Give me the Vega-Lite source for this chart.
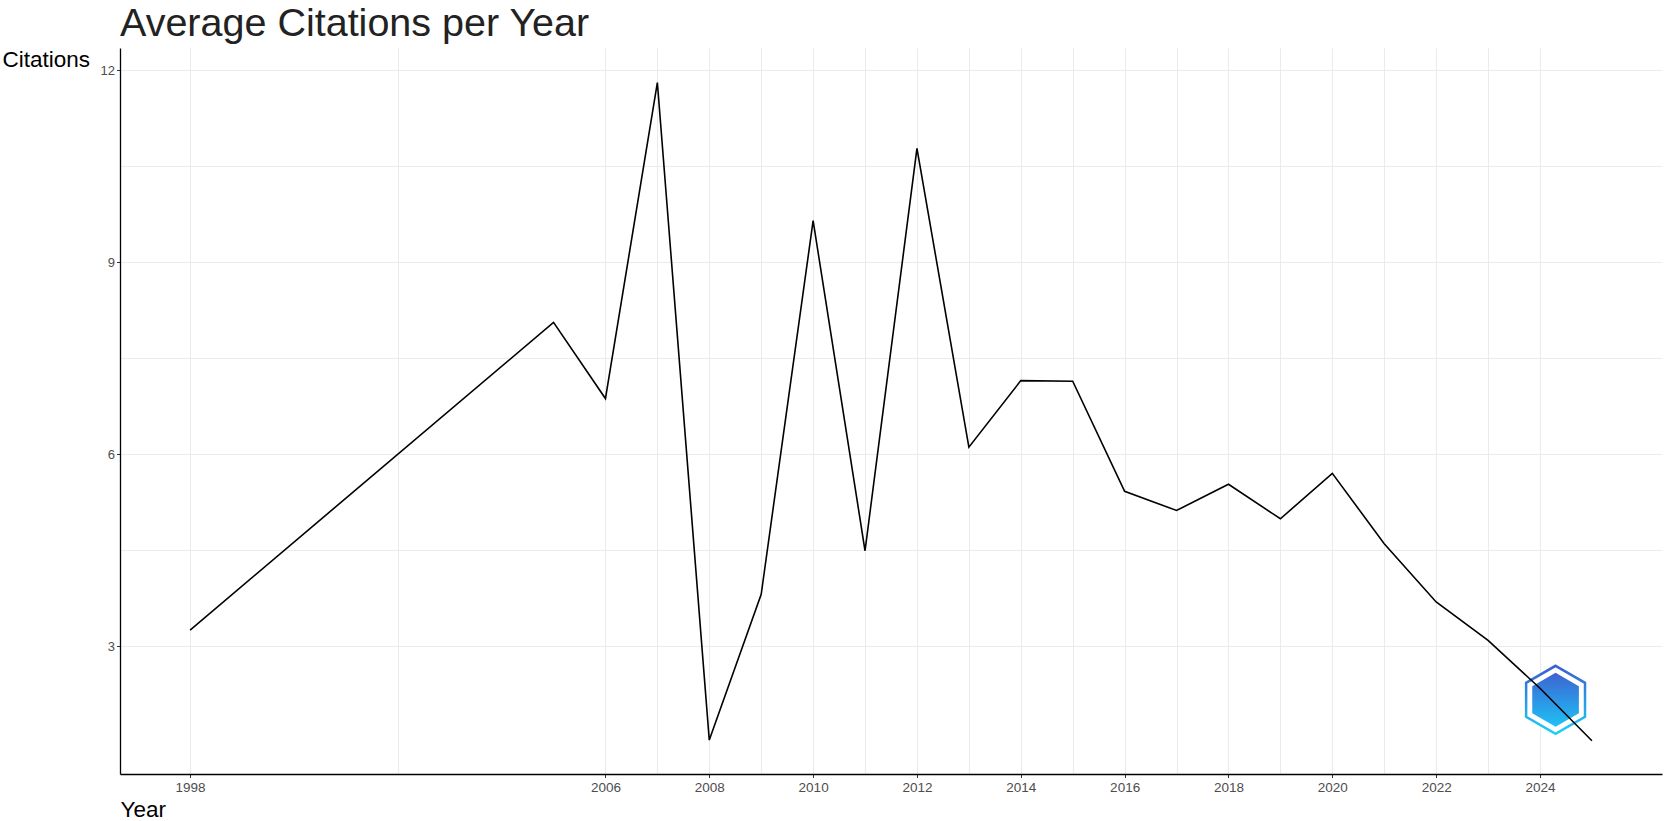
{
  "$schema": "https://vega.github.io/schema/vega-lite/v6.json",
  "autosize": {"type": "none"},
  "width": 1542,
  "height": 726,
  "padding": {"left": 120, "top": 48, "right": 3, "bottom": 47},
  "background": "white",
  "title": {
    "text": "Average Citations per Year",
    "anchor": "start",
    "frame": "group",
    "baseline": "alphabetic",
    "offset": -27,
    "font": "Liberation Sans",
    "fontSize": 39.5,
    "fontWeight": "normal",
    "color": "#222222"
  },
  "datasets": {
    "citations": [
      {"year": 1998, "citations": 3.25},
      {"year": 2005, "citations": 8.06},
      {"year": 2006, "citations": 6.87},
      {"year": 2007, "citations": 11.81},
      {"year": 2008, "citations": 1.53},
      {"year": 2009, "citations": 3.81},
      {"year": 2010, "citations": 9.65},
      {"year": 2011, "citations": 4.49},
      {"year": 2012, "citations": 10.78},
      {"year": 2013, "citations": 6.11},
      {"year": 2014, "citations": 7.15},
      {"year": 2015, "citations": 7.14},
      {"year": 2016, "citations": 5.42},
      {"year": 2017, "citations": 5.12},
      {"year": 2018, "citations": 5.53},
      {"year": 2019, "citations": 4.99},
      {"year": 2020, "citations": 5.70},
      {"year": 2021, "citations": 4.60},
      {"year": 2022, "citations": 3.69},
      {"year": 2023, "citations": 3.09},
      {"year": 2024, "citations": 2.34},
      {"year": 2025, "citations": 1.52}
    ],
    "logo": [
      {"year": 2024.3, "citations": 2.16}
    ]
  },
  "encoding": {
    "x": {
      "field": "year",
      "type": "quantitative",
      "title": "Year",
      "scale": {"domain": [1996.65, 2026.35], "nice": false, "zero": false},
      "axis": {
        "values": [1998, 2002, 2006, 2007, 2008, 2009, 2010, 2011, 2012, 2013, 2014, 2015, 2016, 2017, 2018, 2019, 2020, 2021, 2022, 2023, 2024],
        "labelExpr": "(datum.value == 1998 || (datum.value >= 2006 && datum.value % 2 == 0)) ? '' + datum.value : ''",
        "tickOpacity": {"condition": {"test": "datum.value == 1998 || (datum.value >= 2006 && datum.value % 2 == 0)", "value": 1}, "value": 0},
        "labelOverlap": false,
        "labelFontSize": 13.5,
        "titleAnchor": "start",
        "titleAlign": "left",
        "titleBaseline": "alphabetic",
        "titleX": 0,
        "titleY": 42
      }
    },
    "y": {
      "field": "citations",
      "type": "quantitative",
      "title": "Citations",
      "scale": {"domain": [1.0, 12.35], "nice": false, "zero": false},
      "axis": {
        "values": [3, 4.5, 6, 7.5, 9, 10.5, 12],
        "labelExpr": "datum.value % 3 == 0 ? '' + datum.value : ''",
        "tickOpacity": {"condition": {"test": "datum.value % 3 == 0", "value": 1}, "value": 0},
        "labelOverlap": false,
        "labelFontSize": 13,
        "labelPadding": 2,
        "titleAngle": 0,
        "titleAlign": "left",
        "titleBaseline": "alphabetic",
        "titleX": -118,
        "titleY": 18
      }
    }
  },
  "layer": [
    {
      "data": {"name": "logo"},
      "mark": {
        "type": "point",
        "shape": "M0,-1L0.866,-0.5L0.866,0.5L0,1L-0.866,0.5L-0.866,-0.5Z",
        "size": 4624,
        "filled": false,
        "fill": "white",
        "strokeWidth": 2.5,
        "opacity": 1,
        "stroke": {
          "gradient": "linear",
          "x1": 0, "y1": 0, "x2": 0, "y2": 1,
          "stops": [
            {"offset": 0, "color": "#3a5fcf"},
            {"offset": 1, "color": "#1bd0f7"}
          ]
        }
      }
    },
    {
      "data": {"name": "logo"},
      "mark": {
        "type": "point",
        "shape": "M0,-1L0.866,-0.5L0.866,0.5L0,1L-0.866,0.5L-0.866,-0.5Z",
        "size": 2900,
        "filled": true,
        "opacity": 1,
        "strokeWidth": 0,
        "fill": {
          "gradient": "linear",
          "x1": 0, "y1": 0, "x2": 0, "y2": 1,
          "stops": [
            {"offset": 0, "color": "#3d63d2"},
            {"offset": 1, "color": "#1ec2f5"}
          ]
        }
      }
    },
    {
      "data": {"name": "citations"},
      "mark": {"type": "line", "color": "black", "strokeWidth": 1.6}
    }
  ],
  "config": {
    "view": {"stroke": null},
    "axis": {
      "domainColor": "black",
      "domainWidth": 1.3,
      "tickColor": "#333333",
      "tickSize": 3.5,
      "tickWidth": 1,
      "gridColor": "#ebebeb",
      "gridWidth": 1,
      "labelFont": "Liberation Sans",
      "labelFontSize": 13,
      "labelColor": "#4d4d4d",
      "labelPadding": 3,
      "titleFont": "Liberation Sans",
      "titleFontSize": 22.5,
      "titleFontWeight": "normal",
      "titleColor": "black"
    }
  }
}
